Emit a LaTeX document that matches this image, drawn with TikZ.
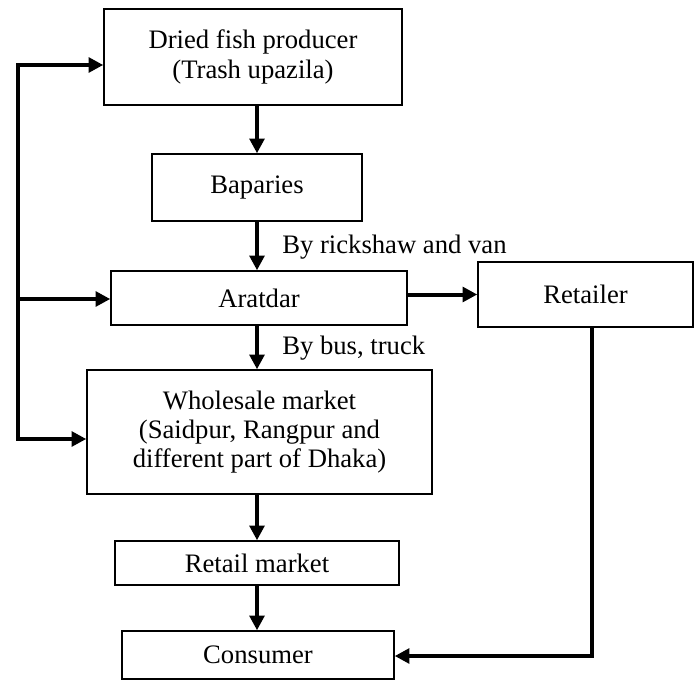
\documentclass[tikz,border=0pt]{standalone}
\usepackage{fontspec}
\setmainfont{Liberation Serif}
\usetikzlibrary{arrows.meta,calc}
\begin{document}
\begin{tikzpicture}[x=0.75pt,y=-0.75pt,
  box/.style={draw, line width=1.1pt, inner sep=0pt, align=center,
    font=\fontsize{20pt}{22pt}\selectfont},
  lbl/.style={anchor=base west, inner sep=0pt, font=\fontsize{20pt}{22pt}\selectfont},
  conn/.style={line width=3pt, -{Triangle[length=11pt,width=11pt]}},
  conn2/.style={line width=3pt, {Triangle[length=11pt,width=11pt]}-{Triangle[length=11pt,width=11pt]}}
]
\useasboundingbox (0,0) rectangle (695,681);
\node[box, minimum width=298*0.75pt, minimum height=96*0.75pt] (producer) at (253,57) {Dried fish producer\\(Trash upazila)};
\node[box, minimum width=210*0.75pt, minimum height=67*0.75pt] (baparies) at (257,187.5) {Baparies};
\node[box, minimum width=296*0.75pt, minimum height=54*0.75pt] (aratdar) at (259,298) {Aratdar};
\node[box, minimum width=215*0.75pt, minimum height=65*0.75pt] (retailer) at (585.5,294.5) {Retailer};
\node[box, minimum width=345*0.75pt, minimum height=124*0.75pt] (wholesale) at (259.5,432) {Wholesale market\\(Saidpur, Rangpur and\\different part of Dhaka)};
\node[box, minimum width=284*0.75pt, minimum height=44*0.75pt] (retailmkt) at (257,563) {Retail market};
\node[box, minimum width=272*0.75pt, minimum height=48*0.75pt] (consumer) at (258,655) {Consumer};

\node[lbl] (l1) at (282,253) {By rickshaw and van};
\node[lbl] (l2) at (282,354) {By bus, truck};

\coordinate (vx) at (257,0);
\draw[conn] (producer.south -| vx) -- (baparies.north -| vx);
\draw[conn] (baparies.south -| vx) -- (aratdar.north -| vx);
\draw[conn] (aratdar.south -| vx) -- (wholesale.north -| vx);
\draw[conn] (wholesale.south -| vx) -- (retailmkt.north -| vx);
\draw[conn] (retailmkt.south -| vx) -- (consumer.north -| vx);

\draw[conn] (aratdar.east |- retailer.west) -- (retailer.west);

\coordinate (rc) at (592,656);
\draw[conn] (retailer.south -| rc) -- (rc) -- (rc -| consumer.east);

\coordinate (ltop) at (18,65);
\coordinate (lmid) at (18,299);
\coordinate (lbot) at (18,439);
\draw[conn2] (ltop -| producer.west) -- (ltop) -- (lbot) -- (lbot -| wholesale.west);
\draw[conn] (lmid) -- (lmid -| aratdar.west);
\end{tikzpicture}
\end{document}
